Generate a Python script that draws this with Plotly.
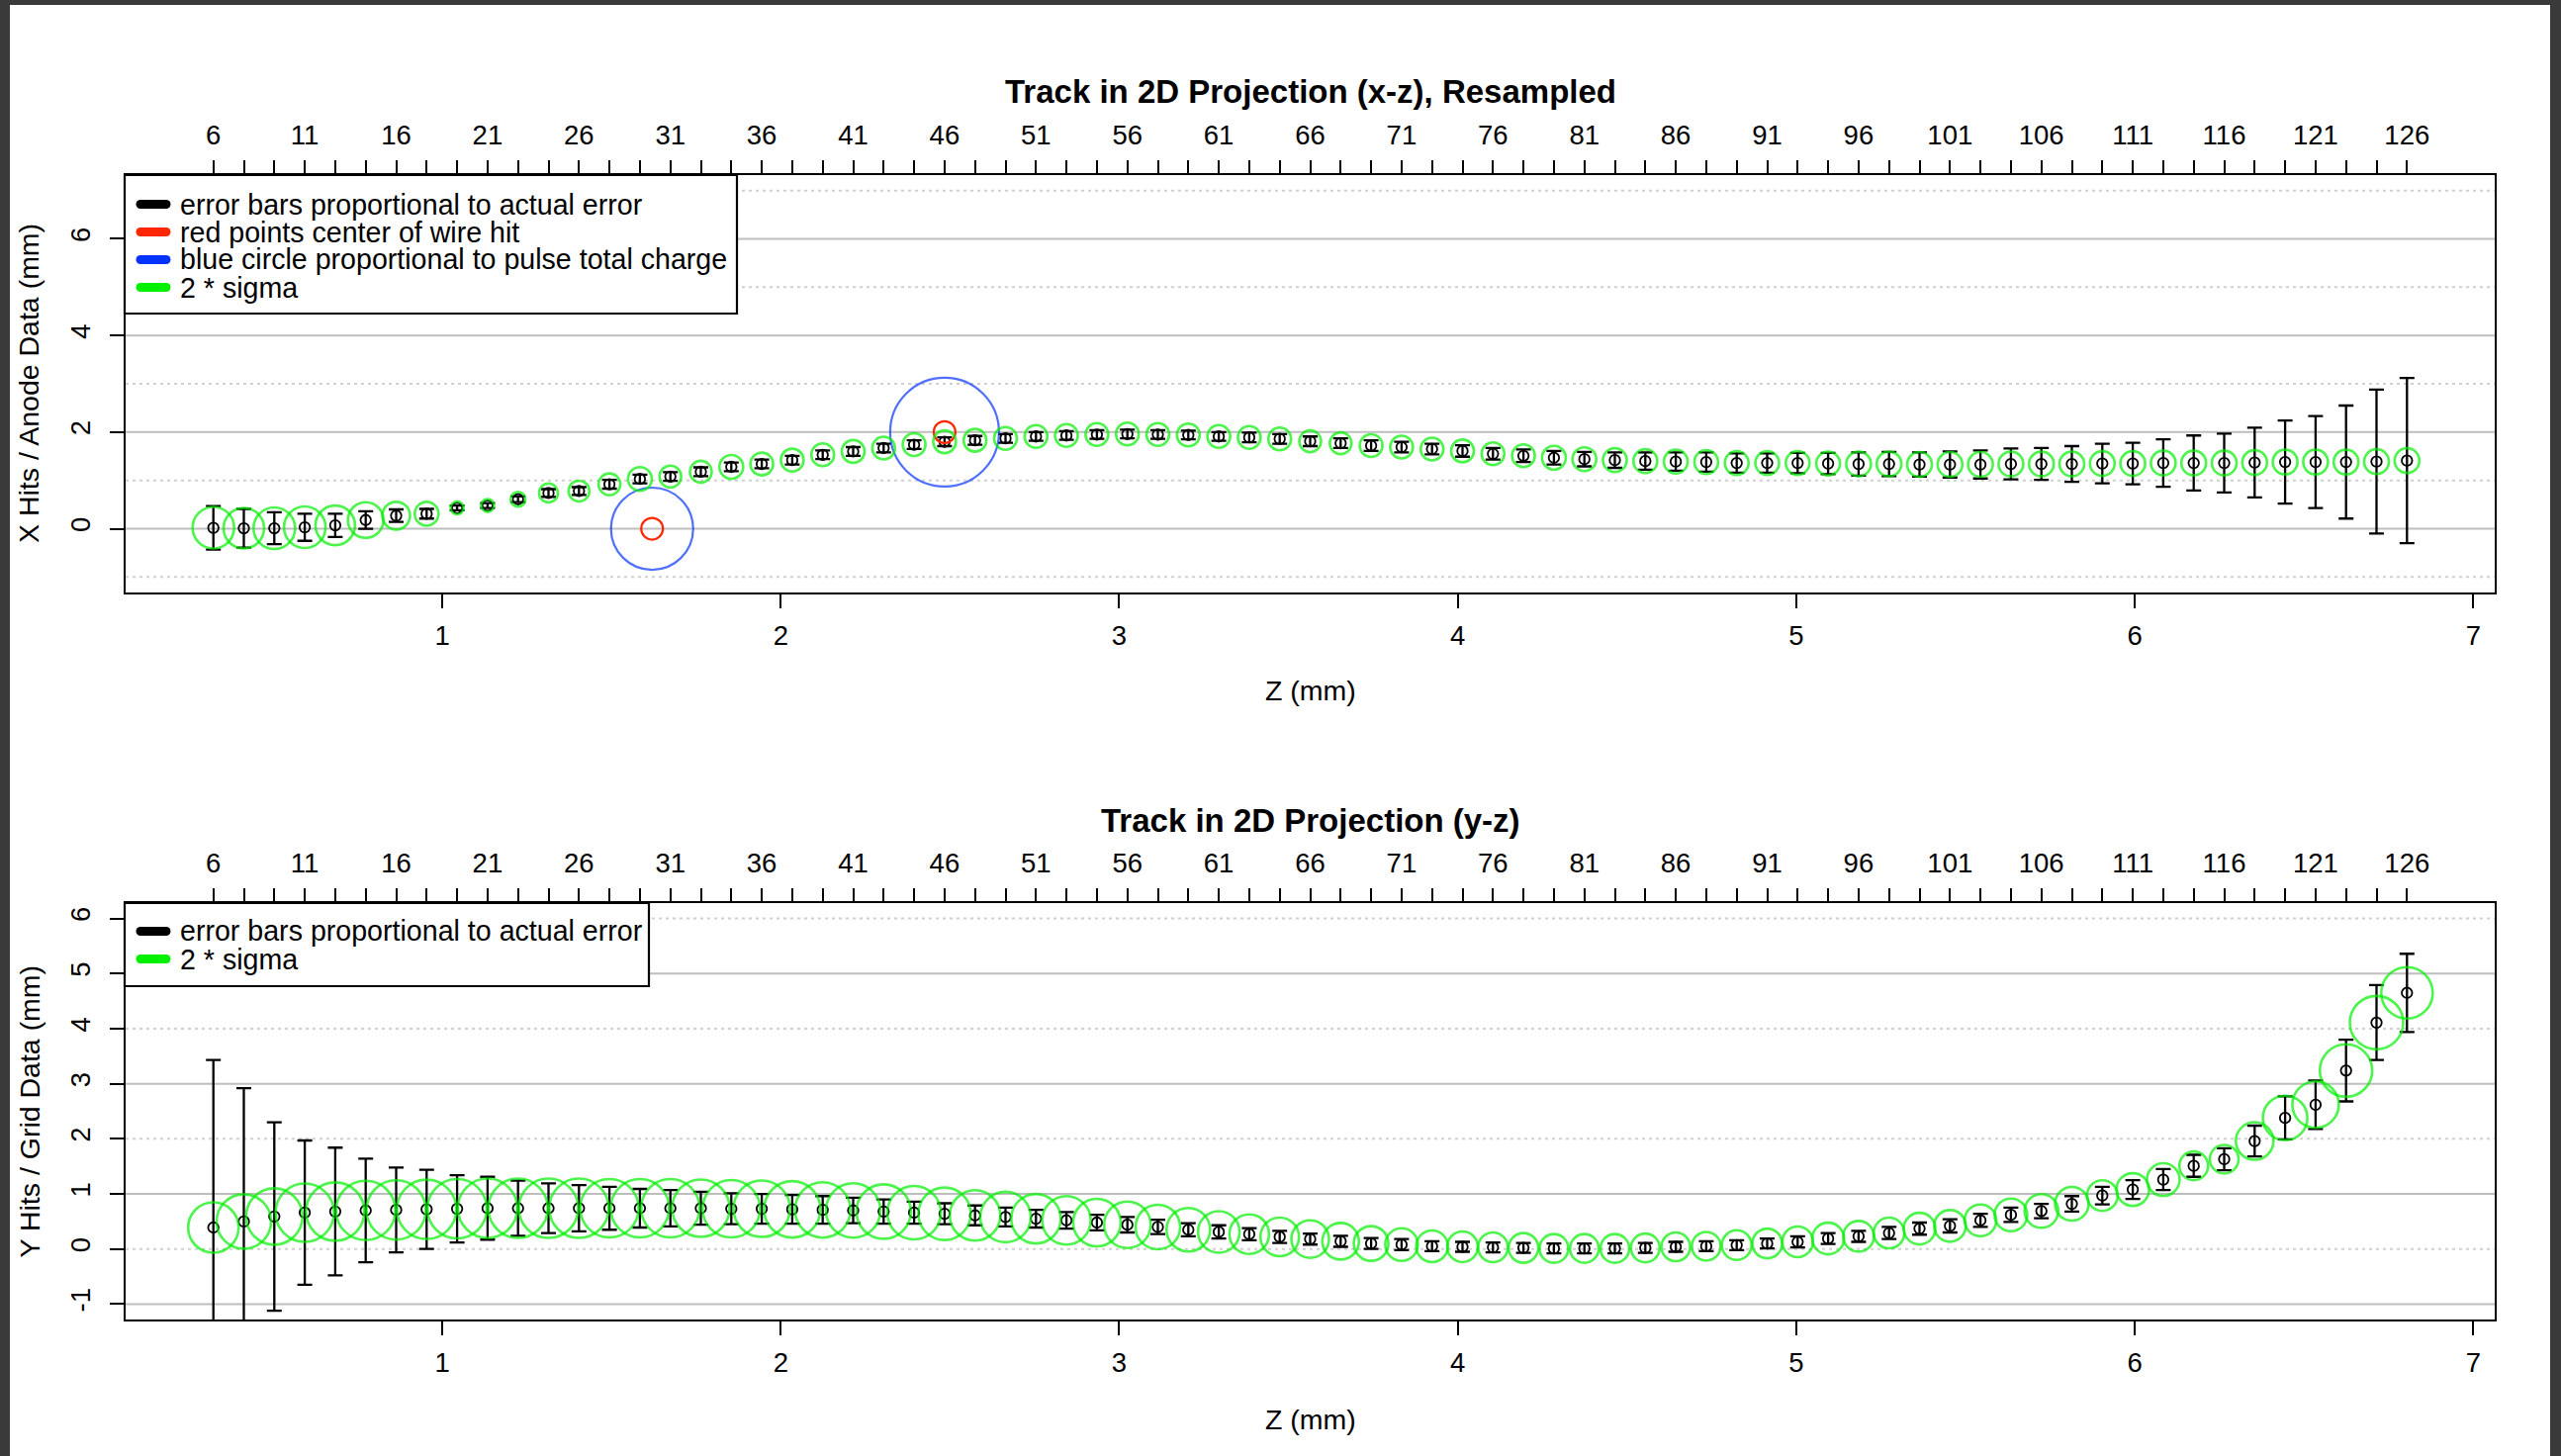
import plotly.graph_objects as go

W, H = 2589, 1472

# ---------------- data ----------------
z_mm = [0.324, 0.414, 0.504, 0.594, 0.684, 0.774, 0.864, 0.954, 1.044, 1.134,
        1.224, 1.314, 1.404, 1.494, 1.584, 1.674, 1.764, 1.854, 1.944, 2.034,
        2.124, 2.214, 2.304, 2.394, 2.484, 2.574, 2.664, 2.754, 2.844, 2.934,
        3.024, 3.114, 3.204, 3.294, 3.384, 3.474, 3.564, 3.654, 3.744, 3.834,
        3.924, 4.014, 4.104, 4.194, 4.284, 4.374, 4.464, 4.554, 4.644, 4.734,
        4.824, 4.914, 5.004, 5.094, 5.184, 5.274, 5.364, 5.454, 5.544, 5.634,
        5.724, 5.814, 5.904, 5.994, 6.084, 6.174, 6.264, 6.354, 6.444, 6.534,
        6.624, 6.714, 6.804]

index_labels = [6, 11, 16, 21, 26, 31, 36, 41, 46, 51, 56, 61, 66, 71, 76,
                81, 86, 91, 96, 101, 106, 111, 116, 121, 126]

x_hits = [0.02, 0.01, 0.01, 0.03, 0.07, 0.18, 0.27, 0.31, 0.43, 0.48,
          0.61, 0.74, 0.78, 0.92, 1.03, 1.08, 1.18, 1.28, 1.34, 1.42,
          1.53, 1.60, 1.67, 1.74, 1.80, 1.83, 1.87, 1.91, 1.93, 1.95,
          1.96, 1.95, 1.94, 1.91, 1.89, 1.86, 1.81, 1.77, 1.72, 1.69,
          1.65, 1.61, 1.55, 1.51, 1.47, 1.44, 1.42, 1.40, 1.39, 1.38,
          1.36, 1.36, 1.36, 1.35, 1.34, 1.34, 1.33, 1.33, 1.33, 1.34,
          1.34, 1.34, 1.35, 1.35, 1.36, 1.36, 1.36, 1.37, 1.38, 1.38,
          1.38, 1.39, 1.41]

x_err = [0.45, 0.40, 0.33, 0.28, 0.24, 0.18, 0.13, 0.10, 0.05, 0.05,
         0.06, 0.08, 0.08, 0.09, 0.09, 0.09, 0.09, 0.09, 0.09, 0.09,
         0.09, 0.09, 0.09, 0.09, 0.09, 0.09, 0.09, 0.09, 0.09, 0.09,
         0.09, 0.09, 0.09, 0.09, 0.10, 0.10, 0.10, 0.10, 0.11, 0.11,
         0.11, 0.12, 0.12, 0.13, 0.14, 0.15, 0.16, 0.18, 0.19, 0.20,
         0.20, 0.20, 0.21, 0.22, 0.24, 0.25, 0.25, 0.27, 0.29, 0.32,
         0.33, 0.37, 0.41, 0.43, 0.49, 0.57, 0.61, 0.72, 0.86, 0.95,
         1.17, 1.49, 1.71]

x_sigma = [0.210, 0.205, 0.210, 0.210, 0.200, 0.180, 0.140, 0.120, 0.065, 0.065,
           0.075, 0.095, 0.105, 0.110, 0.120, 0.110, 0.110, 0.120, 0.115, 0.115,
           0.115, 0.115, 0.115, 0.115, 0.115, 0.115, 0.115, 0.115, 0.115, 0.115,
           0.115, 0.115, 0.115, 0.115, 0.115, 0.115, 0.110, 0.110, 0.115, 0.115,
           0.115, 0.115, 0.115, 0.115, 0.120, 0.120, 0.120, 0.120, 0.120, 0.120,
           0.120, 0.120, 0.120, 0.120, 0.125, 0.125, 0.125, 0.125, 0.125, 0.125,
           0.125, 0.125, 0.125, 0.125, 0.125, 0.125, 0.125, 0.125, 0.125, 0.125,
           0.125, 0.125, 0.125]

y_hits = [0.39, 0.50, 0.59, 0.66, 0.68, 0.70, 0.71, 0.72, 0.73, 0.74,
          0.74, 0.74, 0.74, 0.74, 0.74, 0.74, 0.74, 0.73, 0.73, 0.72,
          0.71, 0.70, 0.68, 0.66, 0.64, 0.61, 0.58, 0.55, 0.52, 0.48,
          0.44, 0.40, 0.35, 0.31, 0.27, 0.22, 0.18, 0.14, 0.10, 0.08,
          0.05, 0.04, 0.03, 0.02, 0.01, 0.01, 0.01, 0.02, 0.04, 0.05,
          0.07, 0.10, 0.13, 0.19, 0.23, 0.29, 0.37, 0.42, 0.52, 0.62,
          0.69, 0.82, 0.97, 1.08, 1.26, 1.51, 1.63, 1.96, 2.38, 2.62,
          3.24, 4.11, 4.65]

y_err = [3.04, 2.42, 1.71, 1.31, 1.16, 0.94, 0.77, 0.72, 0.61, 0.57,
         0.50, 0.45, 0.42, 0.39, 0.35, 0.33, 0.30, 0.28, 0.27, 0.26,
         0.25, 0.23, 0.22, 0.20, 0.19, 0.18, 0.17, 0.16, 0.15, 0.14,
         0.14, 0.13, 0.12, 0.12, 0.11, 0.11, 0.10, 0.10, 0.10, 0.10,
         0.09, 0.09, 0.09, 0.09, 0.09, 0.09, 0.09, 0.09, 0.09, 0.09,
         0.09, 0.09, 0.10, 0.10, 0.10, 0.11, 0.11, 0.12, 0.12, 0.13,
         0.13, 0.14, 0.16, 0.17, 0.19, 0.20, 0.20, 0.28, 0.39, 0.44,
         0.56, 0.68, 0.71]

y_sigma = [0.255, 0.275, 0.285, 0.295, 0.295, 0.300, 0.300, 0.300, 0.300, 0.300,
           0.300, 0.300, 0.300, 0.295, 0.295, 0.295, 0.290, 0.290, 0.285, 0.285,
           0.280, 0.275, 0.275, 0.270, 0.265, 0.255, 0.255, 0.250, 0.245, 0.240,
           0.235, 0.225, 0.220, 0.210, 0.200, 0.195, 0.190, 0.185, 0.175, 0.165,
           0.160, 0.155, 0.150, 0.150, 0.145, 0.145, 0.145, 0.145, 0.145, 0.145,
           0.150, 0.150, 0.155, 0.160, 0.155, 0.155, 0.160, 0.160, 0.160, 0.165,
           0.170, 0.170, 0.155, 0.165, 0.165, 0.145, 0.145, 0.190, 0.225, 0.235,
           0.265, 0.270, 0.260]

wire_z = [1.62, 2.484]
wire_x = [0.0, 2.0]
wire_charge = [0.755, 1.0]

y1_ticks = [0, 2, 4, 6]
y2_ticks = [-1, 0, 1, 2, 3, 4, 5, 6]
z_ticks = [1, 2, 3, 4, 5, 6, 7]

# ---------------- styling ----------------
FONT = "Liberation Sans, Arial, Helvetica, sans-serif"
RED = "#FF2600"
BLUE = "#0433FF"
GREEN = "#00F000"
GRID = "#BEBEBE"
GRID_DOT = "#D0D0D0"
SIGMA_PX = 100
CHARGE_PX = 110

BOX_L, BOX_R = 127, 2522
TOP_T, TOP_B = 177, 599
BOT_T, BOT_B = 913, 1334


def px(v):
    return v / W


def py(v):
    return 1 - v / H


XR = [0.0648, 7.0632]
Y1R = [-1.32, 7.32]
Y2R = [-1.28, 6.28]

fig = go.Figure()

# ---- top panel (x-z) ----
fig.add_trace(go.Scatter(
    x=z_mm, y=x_hits, mode="markers", xaxis="x", yaxis="y",
    marker=dict(symbol="circle-open", size=10.5, color="black",
                line=dict(width=1.8, color="black")),
    error_y=dict(type="data", array=x_err, color="black", thickness=2.3, width=7.5),
    hoverinfo="skip", showlegend=False))
fig.add_trace(go.Scatter(
    x=z_mm, y=x_hits, mode="markers", xaxis="x2", yaxis="y",
    marker=dict(symbol="circle-open", size=[2 * s * SIGMA_PX for s in x_sigma],
                color=GREEN, line=dict(width=2.6, color=GREEN)),
    hoverinfo="skip", showlegend=False))
fig.add_trace(go.Scatter(
    x=wire_z, y=wire_x, mode="markers", xaxis="x", yaxis="y",
    marker=dict(symbol="circle-open", size=[c * CHARGE_PX for c in wire_charge],
                color=BLUE, line=dict(width=2.2, color=BLUE)),
    hoverinfo="skip", showlegend=False))
fig.add_trace(go.Scatter(
    x=wire_z, y=wire_x, mode="markers", xaxis="x", yaxis="y",
    marker=dict(symbol="circle-open", size=22, color=RED,
                line=dict(width=2.2, color=RED)),
    hoverinfo="skip", showlegend=False))

# ---- bottom panel (y-z) ----
fig.add_trace(go.Scatter(
    x=z_mm, y=y_hits, mode="markers", xaxis="x3", yaxis="y2",
    marker=dict(symbol="circle-open", size=10.5, color="black",
                line=dict(width=1.8, color="black")),
    error_y=dict(type="data", array=y_err, color="black", thickness=2.3, width=7.5),
    hoverinfo="skip", showlegend=False))
fig.add_trace(go.Scatter(
    x=z_mm, y=y_hits, mode="markers", xaxis="x4", yaxis="y2",
    marker=dict(symbol="circle-open", size=[2 * s * SIGMA_PX for s in y_sigma],
                color=GREEN, line=dict(width=2.6, color=GREEN)),
    hoverinfo="skip", showlegend=False))

top_text = [str(index_labels[i // 3]) if i % 3 == 0 else "" for i in range(len(z_mm))]

tickfont = dict(family=FONT, size=27.5, color="black")
xdom = [px(BOX_L), px(BOX_R)]

common_x = dict(range=XR, domain=xdom, showgrid=False, zeroline=False,
                ticks="outside", ticklen=14, tickwidth=2, tickcolor="black",
                tickfont=tickfont, tickangle=0)
common_y = dict(showgrid=False, zeroline=False, ticks="outside", ticklen=14,
                tickwidth=2, tickcolor="black", tickfont=tickfont, tickangle=-90,
                showline=True, linecolor="black", linewidth=2, mirror=True,
                ticklabelstandoff=9)

fig.update_layout(
    width=W, height=H,
    margin=dict(l=0, r=0, t=0, b=0, autoexpand=False),
    paper_bgcolor="#3A3A3A",
    plot_bgcolor="white",
    showlegend=False,
    font=dict(family=FONT, color="black"),
    xaxis=dict(**common_x, anchor="y", tickvals=z_ticks,
               ticktext=[str(v) for v in z_ticks],
               showline=True, linecolor="black", linewidth=2, mirror=True,
               ticklabelstandoff=4),
    xaxis2=dict(**common_x, anchor="y", overlaying="x", side="top",
                tickvals=z_mm, ticktext=top_text, showline=False,
                ticklabelstandoff=5),
    yaxis=dict(**common_y, range=Y1R, domain=[py(TOP_B), py(TOP_T)],
               tickvals=y1_ticks, ticktext=[str(v) for v in y1_ticks], anchor="x"),
    xaxis3=dict(**common_x, anchor="y2", tickvals=z_ticks,
                ticktext=[str(v) for v in z_ticks],
                showline=True, linecolor="black", linewidth=2, mirror=True,
                ticklabelstandoff=4),
    xaxis4=dict(**common_x, anchor="y2", overlaying="x3", side="top",
                tickvals=z_mm, ticktext=top_text, showline=False,
                ticklabelstandoff=5),
    yaxis2=dict(**common_y, range=Y2R, domain=[py(BOT_B), py(BOT_T)],
                tickvals=y2_ticks, ticktext=[str(v) for v in y2_ticks], anchor="x3"),
)

shapes = []
# white page area inside the dark frame
shapes.append(dict(type="rect", xref="paper", yref="paper",
                   x0=px(10), x1=px(2578), y0=py(1490), y1=py(5),
                   fillcolor="white", line=dict(width=0), layer="below"))

# grid lines
for v in [0, 2, 4, 6]:
    shapes.append(dict(type="line", xref="x domain", yref="y", x0=0, x1=1, y0=v, y1=v,
                       line=dict(color=GRID, width=2), layer="below"))
for v in [-1, 1, 3, 5, 7]:
    shapes.append(dict(type="line", xref="x domain", yref="y", x0=0, x1=1, y0=v, y1=v,
                       line=dict(color=GRID_DOT, width=2, dash="3px,4px"), layer="below"))
for v in [-1, 1, 3, 5]:
    shapes.append(dict(type="line", xref="x3 domain", yref="y2", x0=0, x1=1, y0=v, y1=v,
                       line=dict(color=GRID, width=2), layer="below"))
for v in [0, 2, 4, 6]:
    shapes.append(dict(type="line", xref="x3 domain", yref="y2", x0=0, x1=1, y0=v, y1=v,
                       line=dict(color=GRID_DOT, width=2, dash="3px,4px"), layer="below"))

annotations = []
LEG_SIZE = 28.6


def legend(box, rows):
    x0, y0, x1, y1 = box
    shapes.append(dict(type="rect", xref="paper", yref="paper",
                       x0=px(x0), x1=px(x1), y0=py(y1), y1=py(y0),
                       fillcolor="white", line=dict(color="black", width=2.2),
                       layer="above"))
    for (ry, color, text) in rows:
        shapes.append(dict(type="line", xref="paper", yref="paper",
                           x0=px(142), x1=px(168), y0=py(ry), y1=py(ry),
                           line=dict(color=color, width=9), layer="above"))
        for cx in (142, 168):
            shapes.append(dict(type="circle", xref="paper", yref="paper",
                               x0=px(cx - 4.5), x1=px(cx + 4.5),
                               y0=py(ry + 4.5), y1=py(ry - 4.5),
                               fillcolor=color, line=dict(width=0), layer="above"))
        annotations.append(dict(xref="paper", yref="paper", x=px(180), y=py(ry),
                                xanchor="left", yanchor="middle", showarrow=False,
                                text=text, font=dict(family=FONT, size=LEG_SIZE, color="black")))


legend((126, 177, 745, 317), [
    (206.5, "black", "error bars proportional to actual error"),
    (234.5, RED, "red points center of wire hit"),
    (262.5, BLUE, "blue circle proportional to pulse total charge"),
    (290.5, GREEN, "2 * sigma"),
])
legend((126, 913, 656, 997), [
    (941.5, "black", "error bars proportional to actual error"),
    (969.5, GREEN, "2 * sigma"),
])

# titles and axis labels
annotations += [
    dict(xref="paper", yref="paper", x=px(1324.5), y=py(92.5), xanchor="center",
         yanchor="middle", showarrow=False,
         text="<b>Track in 2D Projection (x-z), Resampled</b>",
         font=dict(family=FONT, size=33, color="black")),
    dict(xref="paper", yref="paper", x=px(1324.5), y=py(829), xanchor="center",
         yanchor="middle", showarrow=False,
         text="<b>Track in 2D Projection (y-z)</b>",
         font=dict(family=FONT, size=33, color="black")),
    dict(xref="paper", yref="paper", x=px(1324.5), y=py(698), xanchor="center",
         yanchor="middle", showarrow=False, text="Z (mm)",
         font=dict(family=FONT, size=28.5, color="black")),
    dict(xref="paper", yref="paper", x=px(1324.5), y=py(1435), xanchor="center",
         yanchor="middle", showarrow=False, text="Z (mm)",
         font=dict(family=FONT, size=28.5, color="black")),
    dict(xref="paper", yref="paper", x=px(29), y=py((TOP_T + TOP_B) / 2),
         xanchor="center", yanchor="middle", showarrow=False, textangle=-90,
         text="X Hits / Anode Data (mm)",
         font=dict(family=FONT, size=28.5, color="black")),
    dict(xref="paper", yref="paper", x=px(29), y=py((BOT_T + BOT_B) / 2),
         xanchor="center", yanchor="middle", showarrow=False, textangle=-90,
         text="Y Hits / Grid Data (mm)",
         font=dict(family=FONT, size=28.5, color="black")),
]

fig.update_layout(shapes=shapes, annotations=annotations)
fig.write_html("out.html")
